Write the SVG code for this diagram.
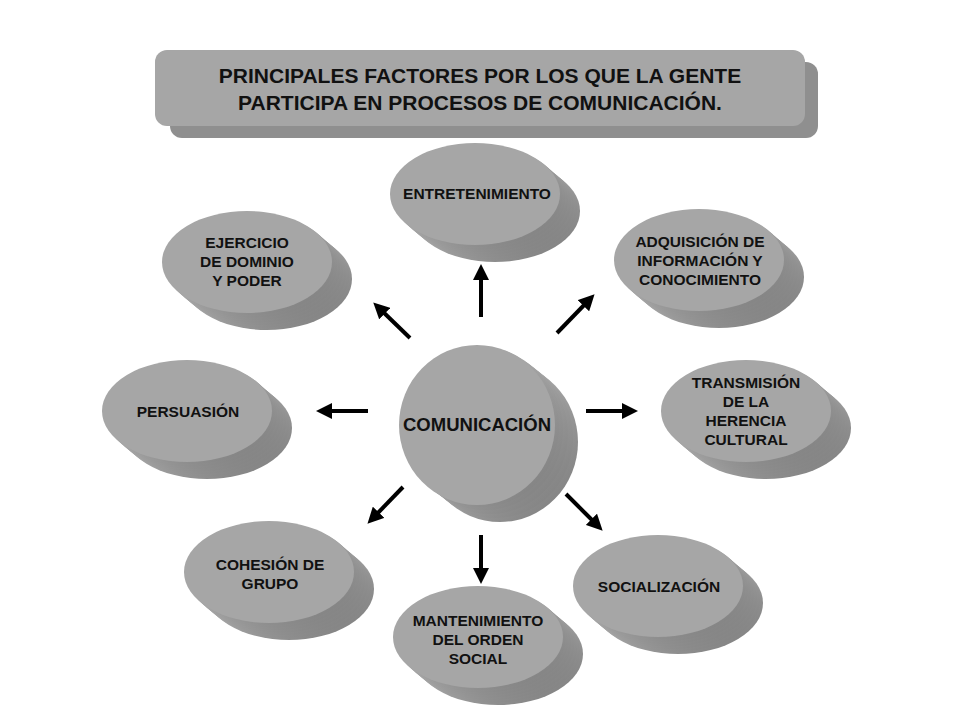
<svg xmlns="http://www.w3.org/2000/svg" width="960" height="720" viewBox="0 0 960 720">
<style>
.t{font-family:"Liberation Sans",Arial,sans-serif;font-weight:bold;font-size:15.5px;fill:#111;text-anchor:middle}
.front{fill:#a6a6a6}
.c{stroke:#000;stroke-width:4;fill:none;marker-end:url(#ah)}
</style>
<defs>
<marker id="ah" markerWidth="4" markerHeight="4" refX="2" refY="2" orient="auto"><path d="M0,0L4,2L0,4z" fill="#000"/></marker>
<linearGradient id="sg" x1="0" y1="0" x2="1" y2="1"><stop offset="0" stop-color="#c8c8c8"/><stop offset="1" stop-color="#7a7a7a"/></linearGradient>
<g id="disc">
<ellipse cx="20" cy="17" rx="85" ry="51" fill="url(#sg)"/>
<ellipse cx="17" cy="14.5" rx="85" ry="51" fill="url(#sg)"/>
<ellipse cx="14" cy="12" rx="85" ry="51" fill="url(#sg)"/>
<ellipse cx="11" cy="9.5" rx="85" ry="51" fill="url(#sg)"/>
<ellipse cx="8" cy="7" rx="85" ry="51" fill="url(#sg)"/>
<ellipse cx="5" cy="4.5" rx="85" ry="51" fill="url(#sg)"/>
<ellipse cx="2.5" cy="2" rx="85" ry="51" fill="url(#sg)"/>
<ellipse cx="0" cy="0" rx="85" ry="51" class="front"/>
</g>
</defs>
<rect width="960" height="720" fill="#fff"/>
<g id="title">
<rect x="170" y="62" width="648" height="76" rx="12" fill="#8f8f8f"/>
<rect x="155" y="50" width="650" height="76" rx="12" fill="#a6a6a6"/>
<text class="t" x="480" y="83" style="font-size:21px">PRINCIPALES FACTORES POR LOS QUE LA GENTE</text>
<text class="t" x="480" y="110" style="font-size:21px">PARTICIPA EN PROCESOS DE COMUNICACIÓN.</text>
</g>
<g id="connectors">
<path class="c" d="M481,317L481,272"/>
<path class="c" d="M557,333L589,300"/>
<path class="c" d="M410,338L379,308"/>
<path class="c" d="M368,411L324,411"/>
<path class="c" d="M586,411L630,411"/>
<path class="c" d="M403,487L373,518"/>
<path class="c" d="M481,535L481,576"/>
<path class="c" d="M566,494L597,525"/>
</g>
<g id="comunicacion">
<ellipse cx="500" cy="442" rx="78" ry="80" fill="url(#sg)"/>
<ellipse cx="495" cy="438" rx="78" ry="80" fill="url(#sg)"/>
<ellipse cx="490" cy="434" rx="78" ry="80" fill="url(#sg)"/>
<ellipse cx="485" cy="430" rx="78" ry="80" fill="url(#sg)"/>
<ellipse cx="481" cy="427" rx="78" ry="80" fill="url(#sg)"/>
<ellipse cx="477" cy="425" rx="78" ry="80" class="front"/>
<text class="t" x="477" y="431" style="font-size:18.5px">COMUNICACIÓN</text>
</g>
<g id="entretenimiento"><use href="#disc" x="475" y="194"/><text class="t" x="477" y="199">ENTRETENIMIENTO</text></g>
<g id="ejercicio"><use href="#disc" x="247" y="262"/><text class="t" x="247" y="248">EJERCICIO</text><text class="t" x="247" y="267">DE DOMINIO</text><text class="t" x="247" y="286">Y PODER</text></g>
<g id="adquisicion"><use href="#disc" x="699" y="260"/><text class="t" x="700" y="247">ADQUISICIÓN DE</text><text class="t" x="700" y="266">INFORMACIÓN Y</text><text class="t" x="700" y="285">CONOCIMIENTO</text></g>
<g id="persuasion"><use href="#disc" x="187" y="411"/><text class="t" x="188" y="417">PERSUASIÓN</text></g>
<g id="transmision"><use href="#disc" x="746" y="411"/><text class="t" x="746" y="388">TRANSMISIÓN</text><text class="t" x="746" y="407">DE LA</text><text class="t" x="746" y="426">HERENCIA</text><text class="t" x="746" y="445">CULTURAL</text></g>
<g id="cohesion"><use href="#disc" x="269" y="572"/><text class="t" x="270" y="570">COHESIÓN DE</text><text class="t" x="270" y="589">GRUPO</text></g>
<g id="mantenimiento"><use href="#disc" x="478" y="637"/><text class="t" x="478" y="626">MANTENIMIENTO</text><text class="t" x="478" y="645">DEL ORDEN</text><text class="t" x="478" y="664">SOCIAL</text></g>
<g id="socializacion"><use href="#disc" x="658" y="586"/><text class="t" x="659" y="592">SOCIALIZACIÓN</text></g>
</svg>
